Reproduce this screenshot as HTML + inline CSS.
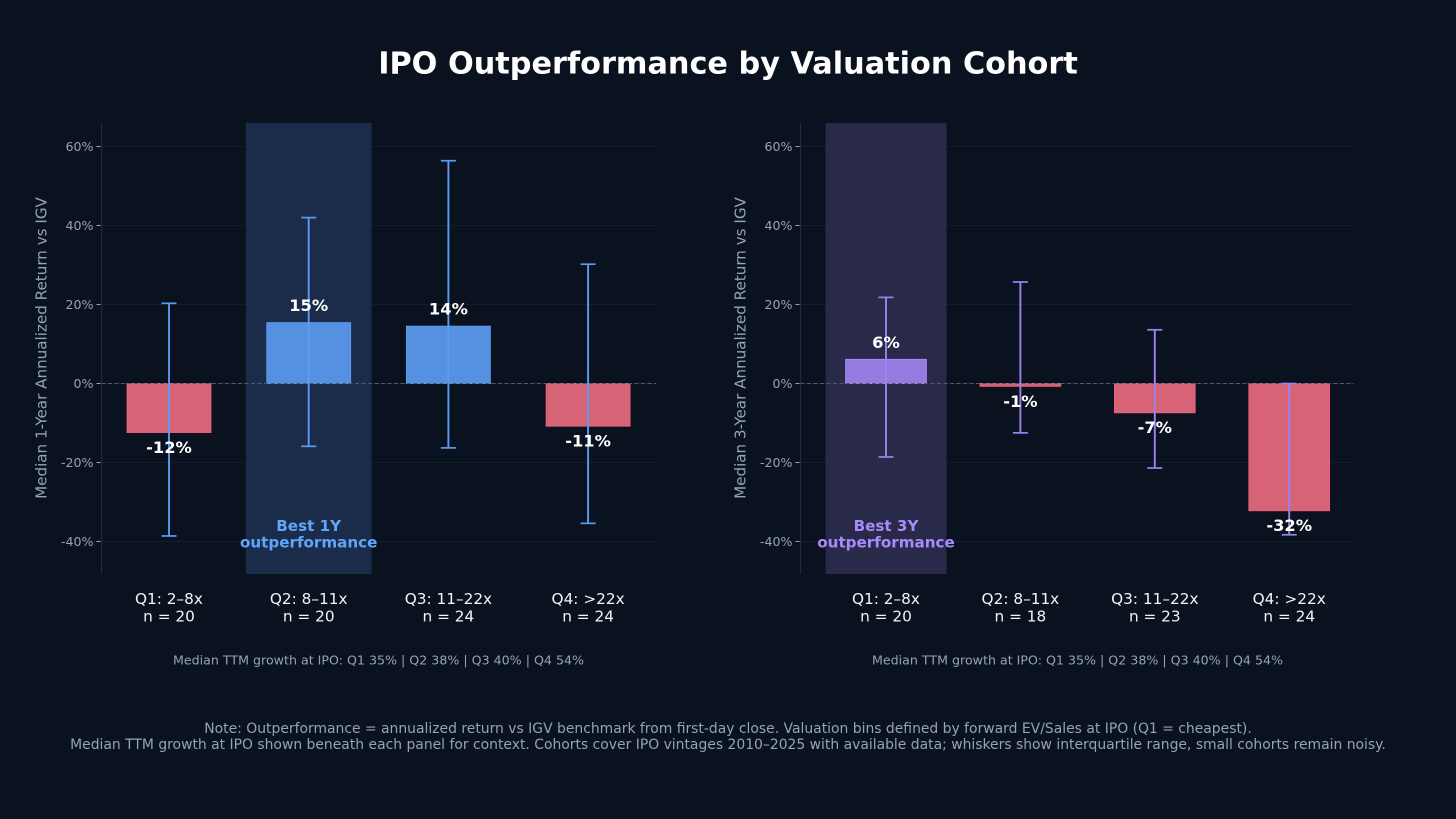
<!DOCTYPE html>
<html lang="en">
<head>
<meta charset="utf-8">
<title>IPO Outperformance by Valuation Cohort</title>
<style>
html,body{margin:0;padding:0;width:1456px;height:819px;overflow:hidden;background:#0a1220;}
svg{display:block;font-family:"DejaVu Sans",sans-serif;}
</style>
</head>
<body>
<svg id="chart" width="1456" height="819" viewBox="0 0 1456 819">
  <rect x="0" y="0" width="1456" height="819" fill="#0a1220"></rect>
  <text x="728" y="73.5" text-anchor="middle" font-size="30.3" font-weight="700" fill="#ffffff">IPO Outperformance by Valuation Cohort</text>
  <g id="panel-1y"></g>
  <g id="panel-3y"></g>
  <text x="378.5" y="664.5" text-anchor="middle" font-size="12.63" fill="#94a3b8">Median TTM growth at IPO: Q1 35% | Q2 38% | Q3 40% | Q4 54%</text>
  <text x="1077.5" y="664.5" text-anchor="middle" font-size="12.63" fill="#94a3b8">Median TTM growth at IPO: Q1 35% | Q2 38% | Q3 40% | Q4 54%</text>
  <text x="728" y="733" text-anchor="middle" font-size="13.92" fill="#94a3b8">Note: Outperformance = annualized return vs IGV benchmark from first-day close. Valuation bins defined by forward EV/Sales at IPO (Q1 = cheapest).</text>
  <text x="728" y="749" text-anchor="middle" font-size="13.92" fill="#94a3b8">Median TTM growth at IPO shown beneath each panel for context. Cohorts cover IPO vintages 2010–2025 with available data; whiskers show interquartile range, small cohorts remain noisy.</text>
</svg>
<script>
var yTicks = [60, 40, 20, 0, -20, -40];
var categories = ['Q1: 2–8x', 'Q2: 8–11x', 'Q3: 11–22x', 'Q4: >22x'];

var counts1y = [20, 20, 24, 24];
var values1y = [-12.4, 15.4, 14.5, -10.8];
var whiskerHigh1y = [20.3, 42.0, 56.4, 30.2];
var whiskerLow1y = [-38.6, -15.9, -16.3, -35.4];
var printed1y = ['-12%', '15%', '14%', '-11%'];

var counts3y = [20, 18, 23, 24];
var values3y = [6.1, -0.7, -7.4, -32.2];
var whiskerHigh3y = [21.8, 25.7, 13.6, 0];
var whiskerLow3y = [-18.6, -12.5, -21.4, -38.3];
var printed3y = ['6%', '-1%', '-7%', '-32%'];

var NS = 'http://www.w3.org/2000/svg';
var axisTop = 123, axisBottom = 574, zeroY = 383.5, pxPerPct = 3.95;

function yScale(v) {
  return zeroY - v * pxPerPct;
}

function make(parent, tag, attrs, text) {
  var el = document.createElementNS(NS, tag);
  for (var k in attrs) { el.setAttribute(k, attrs[k]); }
  if (text !== undefined) { el.textContent = text; }
  parent.appendChild(el);
  return el;
}

function drawPanel(cfg) {
  var g = document.getElementById(cfg.id);
  var xScale = function (i) { return cfg.x0 + i * cfg.step; };
  var barW = cfg.step * 0.6;
  var el;

  yTicks.forEach(function (t) {
    el = make(g, 'line', {x1: cfg.left, x2: cfg.right, y1: yScale(t), y2: yScale(t), stroke: '#111f2c', 'stroke-width': 1});
    
    
    el = make(g, 'line', {x1: cfg.left - 5, x2: cfg.left - 1, y1: yScale(t), y2: yScale(t), stroke: '#94a3b8', 'stroke-width': 1});
    
    
    el = make(g, 'text', {x: cfg.left - 8, y: yScale(t) + 4.5, 'text-anchor': 'end', 'font-size': 12.6, fill: '#94a3b8'}, t + '%');
    
    
  });

  el = make(g, 'rect', {x: xScale(cfg.best) - cfg.step * 0.45, y: axisTop, width: cfg.step * 0.9, height: axisBottom - axisTop, fill: cfg.bandFill});
  
  

  el = make(g, 'line', {x1: cfg.left, x2: cfg.left, y1: axisTop, y2: axisBottom, stroke: '#202b3a', 'stroke-width': 1.2});
  
  

  cfg.values.forEach(function (v, i) {
    var top = yScale(Math.max(v, 0));
    var bottom = yScale(Math.min(v, 0));
    el = make(g, 'rect', {
      x: xScale(i) - barW / 2, y: top, width: barW, height: bottom - top,
      fill: v >= 0 ? cfg.barFill : '#d66376',
      stroke: v >= 0 ? cfg.barStroke : '#e8607a', 'stroke-width': 1
    });
    
    
  });

  el = make(g, 'line', {x1: cfg.left, x2: cfg.right, y1: zeroY, y2: zeroY, stroke: '#4f5b6b', 'stroke-width': 1, 'stroke-dasharray': '4 2.5'});
  
  

  cfg.values.forEach(function (v, i) {
    var x = xScale(i);
    var hi = yScale(cfg.high[i]);
    var lo = yScale(cfg.low[i]);
    el = make(g, 'line', {x1: x, x2: x, y1: hi, y2: lo, stroke: cfg.whisker, 'stroke-width': 1.9});
    
    
    el = make(g, 'line', {x1: x - 7.5, x2: x + 7.5, y1: hi, y2: hi, stroke: cfg.whisker, 'stroke-width': 1.7});
    
    
    el = make(g, 'line', {x1: x - 7.5, x2: x + 7.5, y1: lo, y2: lo, stroke: cfg.whisker, 'stroke-width': 1.7});
    
    
  });

  cfg.values.forEach(function (v, i) {
    var ly = v >= 0 ? yScale(v) - 11.5 : yScale(v) + 20.5;
    el = make(g, 'text', {x: xScale(i), y: ly, 'text-anchor': 'middle', 'font-size': 16.3, 'font-weight': 700, fill: '#ffffff'}, cfg.printed[i]);
    
    
  });

  categories.forEach(function (c, i) {
    var x = xScale(i);
    el = make(g, 'line', {x1: x, x2: x, y1: axisBottom + 1, y2: axisBottom + 5, stroke: '#0b0f16', 'stroke-width': 1});
    
    
    el = make(g, 'text', {x: x, y: 604, 'text-anchor': 'middle', 'font-size': 15.3, fill: '#f1f5f9'}, c);
    
    
    el = make(g, 'text', {x: x, y: 621.5, 'text-anchor': 'middle', 'font-size': 15.3, fill: '#f1f5f9'}, 'n = ' + cfg.counts[i]);
    
    
  });

  var bx = xScale(cfg.best);
  el = make(g, 'text', {x: bx, y: 531, 'text-anchor': 'middle', 'font-size': 15.15, 'font-weight': 700, fill: cfg.accent}, cfg.bestLine);
  
  
  el = make(g, 'text', {x: bx, y: 547.5, 'text-anchor': 'middle', 'font-size': 15.15, 'font-weight': 700, fill: cfg.accent}, 'outperformance');
  
  

  var ty = 348;
  el = make(g, 'text', {x: cfg.titleX, y: ty, 'text-anchor': 'middle', 'font-size': 15.15, fill: '#94a3b8', transform: 'rotate(-90 ' + cfg.titleX + ' ' + ty + ')'}, cfg.yTitle);
  
  
}

drawPanel({
  id: 'panel-1y', key: '1y', x0: 169, step: 139.7, left: 101.5, right: 656, best: 1,
  values: values1y, high: whiskerHigh1y, low: whiskerLow1y, printed: printed1y, counts: counts1y,
  bandFill: '#1a2c4a', barFill: '#5591e0', barStroke: '#5b9cf0', whisker: '#5a9cf0', accent: '#60a5fa',
  bestLine: 'Best 1Y', yTitle: 'Median 1-Year Annualized Return vs IGV', titleX: 46.5
});

drawPanel({
  id: 'panel-3y', key: '3y', x0: 886, step: 134.4, left: 800.5, right: 1354, best: 0,
  values: values3y, high: whiskerHigh3y, low: whiskerLow3y, printed: printed3y, counts: counts3y,
  bandFill: '#292a4a', barFill: '#967ce0', barStroke: '#a78bfa', whisker: '#9c82f0', accent: '#a78bfa',
  bestLine: 'Best 3Y', yTitle: 'Median 3-Year Annualized Return vs IGV', titleX: 745.5
});
</script>
</body>
</html>
